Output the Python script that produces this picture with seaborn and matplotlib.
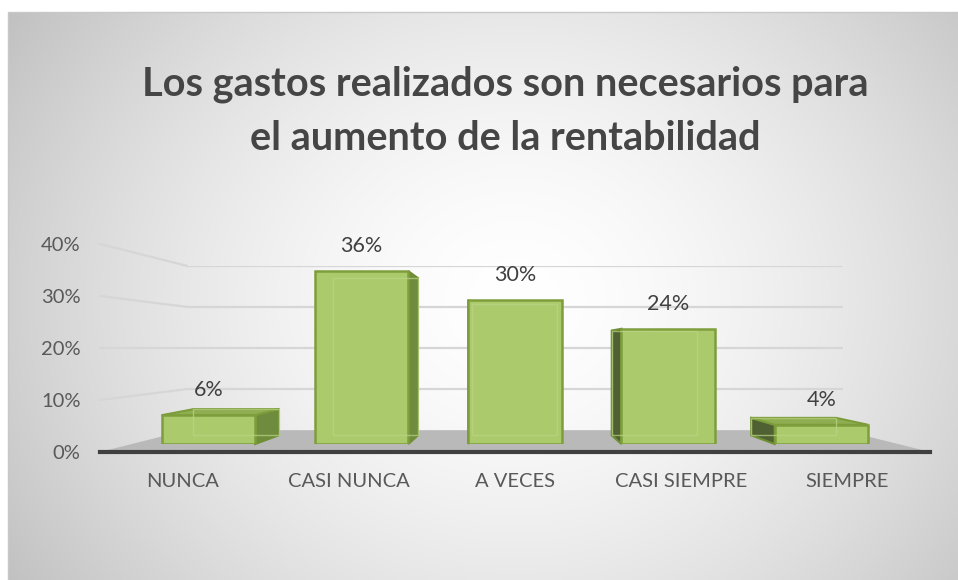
import numpy as np
import pandas as pd
import matplotlib
matplotlib.use("Agg")
import matplotlib.pyplot as plt
import seaborn as sns
from matplotlib.patches import Polygon
from matplotlib.lines import Line2D

categories = ["NUNCA", "CASI NUNCA", "A VECES", "CASI SIEMPRE", "SIEMPRE"]
values = [6, 36, 30, 24, 4]
value_labels = ["6%", "36%", "30%", "24%", "4%"]
yticks = [0, 10, 20, 30, 40]
ytick_labels = ["0%", "10%", "20%", "30%", "40%"]
title = "Los gastos realizados son necesarios para\nel aumento de la rentabilidad"

df = pd.DataFrame({"categoria": categories, "valor": values})

sns.set_theme(style="white")
plt.rcParams["font.family"] = ["Lato", "DejaVu Sans"]

W, H = 958, 580
fig = plt.figure(figsize=(W / 100, H / 100), dpi=100)
fig.patch.set_facecolor("white")

def fpos(left, top, right, bottom):
    return [left / W, 1 - bottom / H, (right - left) / W, (bottom - top) / H]

def fig_pt(x, y):
    return (x / W, 1 - y / H)

# ---- background with radial gradient ----
bg = fig.add_axes(fpos(8, 12, W, H), zorder=0)
gx, gy = np.meshgrid(np.linspace(8, W, 300), np.linspace(12, H, 200))
r = np.sqrt((gx - 515) ** 2 + ((gy - 300) * 1.15) ** 2) / 600
g = np.clip(1 - 0.24 * r ** 1.6, 0, 1)
bg.imshow(np.dstack([g, g, g]), aspect="auto", extent=[0, 1, 0, 1], origin="upper")
bg.set_axis_off()
fig.add_artist(Line2D([8 / W, 8 / W, 1], [0, 1 - 12 / H, 1 - 12 / H],
                      transform=fig.transFigure, color="#c8c8c8", lw=1))

# perspective geometry (layout)
VX, VY = 514, 348
FL, FR, FB, FT = 100, 930, 452, 244          # front plane
def toward(v, c, t):
    return v + t * (c - v)
tb, tm = 0.21, 0.077
BL, BR, BB, BT = toward(FL, VX, tb), toward(FR, VX, tb), toward(FB, VY, tb), toward(FT, VY, tb)
ML, MR, MB, MT = toward(FL, VX, tm), toward(FR, VX, tm), toward(FB, VY, tm), toward(FT, VY, tm)

# ---- back wall with gridlines ----
axb = fig.add_axes(fpos(BL, BT, BR, BB), zorder=1)
axb.set_xlim(0, 1)
axb.set_ylim(0, 40)
axb.patch.set_alpha(0)
for s in axb.spines.values():
    s.set_visible(False)
axb.set_xticks([])
axb.set_yticks([])
for v in yticks[1:]:
    axb.axhline(v, color="#d6d6d6", lw=1.6)

# ---- front axis (labels, floor line) ----
axf = fig.add_axes(fpos(FL, FT, FR, FB), zorder=2)
axf.set_xlim(-0.5, len(categories) - 0.5)
axf.set_ylim(0, 40)
axf.patch.set_alpha(0)
for k, s in axf.spines.items():
    s.set_visible(k == "bottom")
axf.spines["bottom"].set_color("#404040")
axf.spines["bottom"].set_linewidth(3)
axf.set_xticks(range(len(categories)))
axf.set_xticklabels(categories)
axf.set_yticks(yticks)
axf.set_yticklabels(ytick_labels)
axf.tick_params(axis="both", length=0, labelsize=14.5, labelcolor="#595959")
axf.tick_params(axis="x", pad=15)
axf.tick_params(axis="y", pad=14)

# side wall lines and floor
for v in yticks[1:]:
    yf = FB - (FB - FT) * v / 40
    yb = BB - (BB - BT) * v / 40
    fig.add_artist(Line2D([FL / W, BL / W], [1 - yf / H, 1 - yb / H],
                          transform=fig.transFigure, color="#d6d6d6", lw=1.6, zorder=1))
floor = Polygon([fig_pt(FL, FB), fig_pt(FR, FB), fig_pt(BR, BB), fig_pt(BL, BB)],
                closed=True, transform=fig.transFigure, facecolor="#b9b9b9",
                edgecolor="none", zorder=1.5)
fig.add_artist(floor)

# ---- bars ----
axm = fig.add_axes(fpos(ML, MT, MR, MB), zorder=3)
sns.barplot(data=df, x="categoria", y="valor", ax=axm, color="#abca6c",
            width=0.61, edgecolor="#7e9e3c", linewidth=1.8, saturation=1)
axm.set_xlim(-0.5, len(categories) - 0.5)
axm.set_ylim(0, 40)
axm.patch.set_alpha(0)
axm.set_axis_off()
axm.bar_label(axm.containers[0], labels=value_labels, padding=11,
              fontsize=15.5, color="#404040")

fig.canvas.draw()
to_fig = fig.transFigure.inverted()
vdisp = np.array([VX, H - VY], dtype=float)
s = 0.09
for p in axm.patches:
    x0, y0 = p.get_x(), p.get_y()
    x1, y1 = x0 + p.get_width(), y0 + p.get_height()
    pts = axm.transData.transform([[x0, y0], [x1, y0], [x1, y1], [x0, y1]])
    back = pts + s * (vdisp - pts)
    P = to_fig.transform(pts)
    B = to_fig.transform(back)
    cx = (pts[0, 0] + pts[1, 0]) / 2
    if cx < vdisp[0]:
        side = [P[1], P[2], B[2], B[1]]
        scol = "#6f8b3e"
    else:
        side = [P[0], P[3], B[3], B[0]]
        scol = "#4f6032"
    fig.add_artist(Polygon(side, closed=True, transform=fig.transFigure,
                           facecolor=scol, edgecolor="#6f8f33", lw=1.5, zorder=2.9))
    if pts[2, 1] < vdisp[1]:
        top = [P[3], P[2], B[2], B[3]]
        fig.add_artist(Polygon(top, closed=True, transform=fig.transFigure,
                               facecolor="#8fae52", edgecolor="#7c9c3a", lw=1.5, zorder=2.9))
    # faint back edges seen through the face
    fig.add_artist(Polygon(B, closed=True, transform=fig.transFigure, facecolor="none",
                           edgecolor="#bcd586", lw=1.0, alpha=0.7, zorder=3.5))
    p.set_zorder(3)

fig.text(505 / W, 1 - 111 / H, title, ha="center", va="center", fontsize=28.5,
         fontweight="bold", color="#454545", linespacing=1.55)

fig.savefig("out.png", dpi=100)
